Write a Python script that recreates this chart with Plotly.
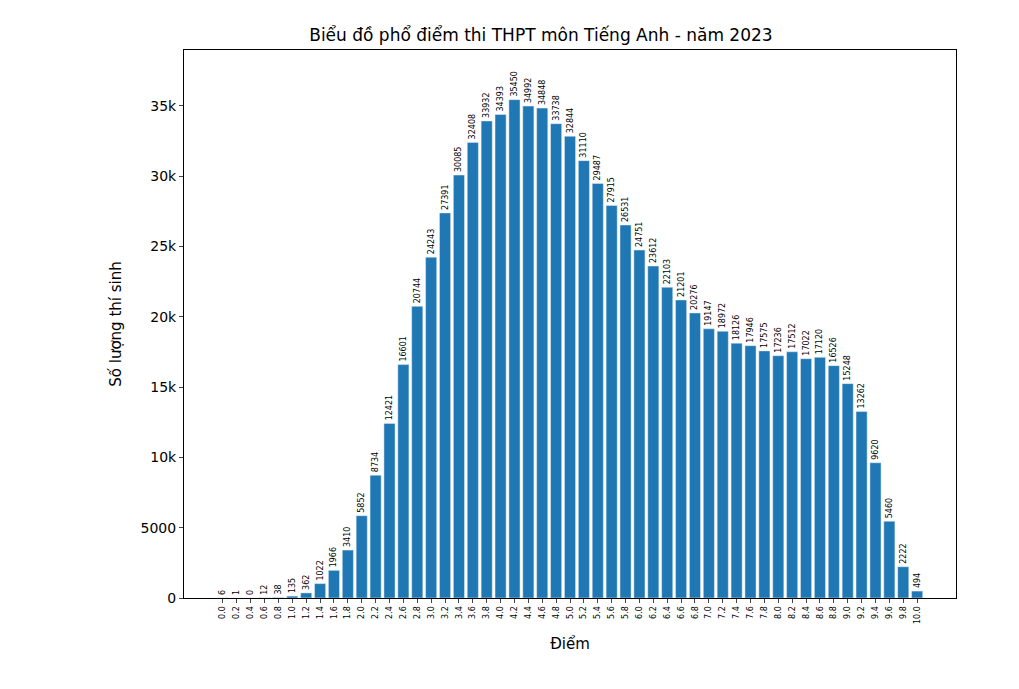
import plotly.graph_objects as go

scores = [round(i*0.2, 1) for i in range(51)]
tick_labels = [f"{s:.1f}" for s in scores]
counts = [6, 1, 0, 12, 38, 135, 362, 1022, 1966, 3410, 5852, 8734, 12421, 16601, 20744,
          24243, 27391, 30085, 32408, 33932, 34393, 35450, 34992, 34848, 33738, 32844,
          31110, 29487, 27915, 26531, 24751, 23612, 22103, 21201, 20276, 19147, 18972,
          18126, 17946, 17575, 17236, 17512, 17022, 17120, 16526, 15248, 13262, 9620,
          5460, 2222, 494]

idx = list(range(len(scores)))
fig = go.Figure(go.Bar(
    x=idx, y=counts, width=0.8, marker_color="#1f77b4",
    text=[str(c) for c in counts], textposition="outside", textangle=-90,
    textfont=dict(size=8, color="black"), cliponaxis=False))
fig.update_layout(
    width=1019, height=689, plot_bgcolor="white", paper_bgcolor="white",
    font=dict(family="DejaVu Sans", color="black"),
    title=dict(text="Biểu đồ phổ điểm thi THPT môn Tiếng Anh - năm 2023", x=0.523, y=0.97,
               xanchor="center", font=dict(size=17)),
    margin=dict(l=176, r=71, t=42, b=99), showlegend=False, uniformtext=dict(minsize=7, mode="show"))
fig.update_xaxes(range=[-2.8, 52.8], tickvals=idx, ticktext=tick_labels, tickangle=-90,
                 tickfont=dict(size=8), ticks="outside", ticklen=4, showgrid=False,
                 showline=True, mirror=True, linecolor="black", zeroline=False,
                 title=dict(text="Điểm", font=dict(size=15)))
fig.update_yaxes(range=[0, 38980], tickvals=[0, 5000, 10000, 15000, 20000, 25000, 30000, 35000],
                 tickfont=dict(size=14), ticks="outside", ticklen=4, showgrid=False,
                 showline=True, mirror=True, linecolor="black", zeroline=False,
                 title=dict(text="Số lượng thí sinh", font=dict(size=15)))
fig.write_html("out.html")
